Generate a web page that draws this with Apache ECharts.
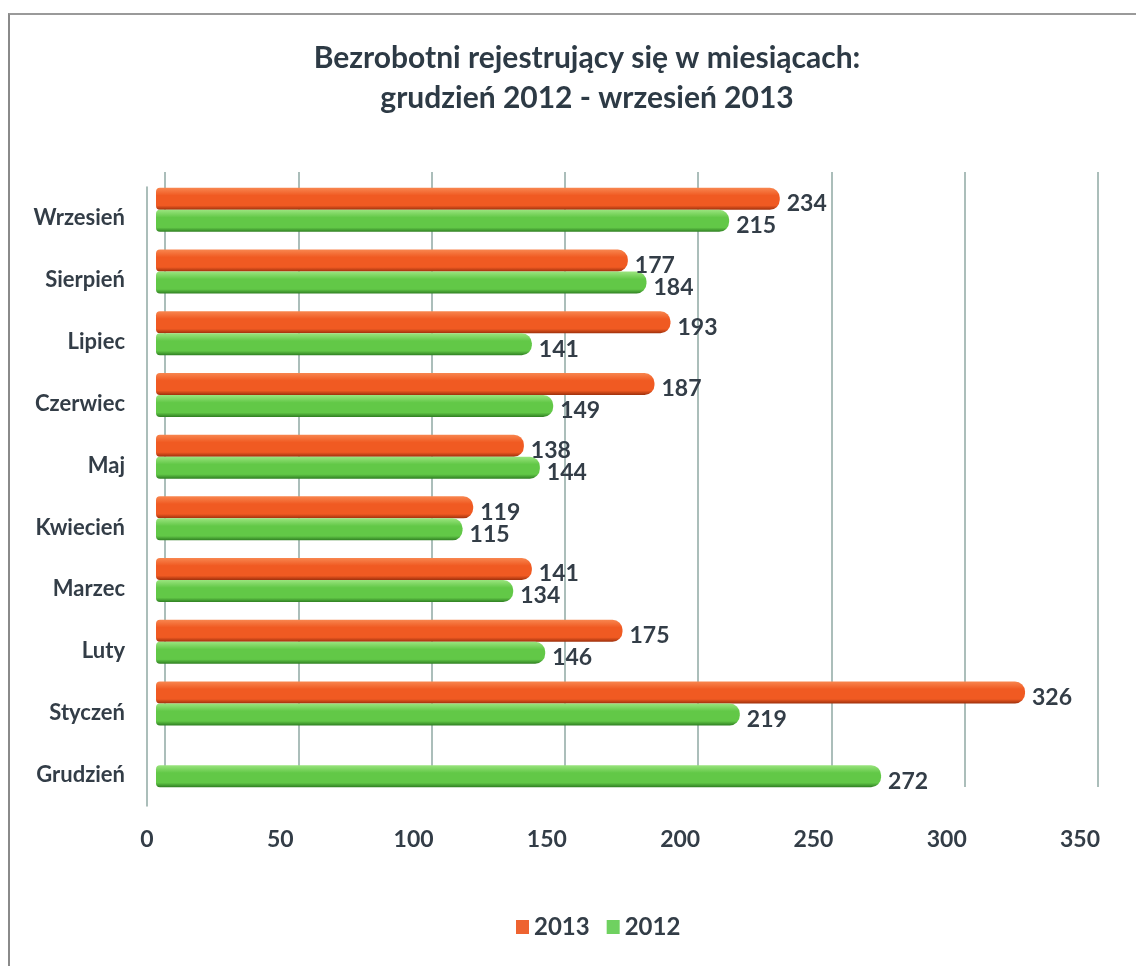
<!DOCTYPE html>
<html>
<head>
<meta charset="utf-8">
<script src="https://cdn.jsdelivr.net/npm/echarts@6/dist/echarts.min.js"></script>
<style>
html,body{margin:0;padding:0;background:#fff;}
#frame{position:absolute;left:8px;top:13px;width:1130px;height:951px;border-top:2px solid #9a9a9a;border-left:2px solid #8a8a8a;border-bottom:1px solid #e4e4e4;}
#chart{position:absolute;left:0;top:0;width:1136px;height:966px;}
</style>
</head>
<body>
<div id="frame"></div>
<div id="chart"></div>
<script>
const categories = ['Grudzień','Styczeń','Luty','Marzec','Kwiecień','Maj','Czerwiec','Lipiec','Sierpień','Wrzesień'];
const values2013 = [null, 326, 175, 141, 119, 138, 187, 193, 177, 234];
const values2012 = [272, 219, 146, 134, 115, 144, 149, 141, 184, 215];
const xTicks = [0, 50, 100, 150, 200, 250, 300, 350];
const titleLines = ['Bezrobotni rejestrujący się w miesiącach:', 'grudzień 2012 - wrzesień 2013'];

const FONT = 'Lato';
const TXT = '#333d47';

function grad(top, mid, bot) {
  return new echarts.graphic.LinearGradient(0, 0, 0, 1, [
    {offset: 0, color: top}, {offset: 0.35, color: mid}, {offset: 0.8, color: mid}, {offset: 1, color: bot}
  ]);
}

const chart = echarts.init(document.getElementById('chart'), null, {renderer: 'canvas'});
const xMin = xTicks[0], xMax = xTicks[xTicks.length - 1], xStep = xTicks[1] - xTicks[0];

const labelStyle = {show: true, position: 'right', distance: 7, offset: [0, 5], color: TXT, fontFamily: FONT, fontWeight: 'bold', fontSize: 23};

chart.setOption({
  animation: false,
  textStyle: {fontFamily: FONT},
  title: {
    text: titleLines.join('\n'),
    left: 582, top: 33, textAlign: 'center',
    textStyle: {fontFamily: FONT, fontWeight: 'bold', fontSize: 30, color: '#2d3a45', lineHeight: 40, align: 'center'}
  },
  legend: {
    data: [
      {name: '2013', itemStyle: {color: '#ee6330'}},
      {name: '2012', itemStyle: {color: '#6fd160'}}
    ],
    bottom: 22, left: 511,
    icon: 'rect', itemWidth: 13, itemHeight: 14, itemGap: 17,
    textStyle: {fontFamily: FONT, fontWeight: 'bold', fontSize: 24, color: TXT}
  },
  grid: [
    {left: 156, width: 933, top: 179, height: 617},
    {left: 165, width: 933, top: 172, height: 615},
    {left: 147, width: 933, top: 187, height: 619}
  ],
  xAxis: [
    {gridIndex: 0, type: 'value', min: xMin, max: xMax, interval: xStep,
     axisLabel: {show: false}, axisLine: {show: false}, axisTick: {show: false}, splitLine: {show: false}},
    {gridIndex: 1, type: 'value', min: xMin, max: xMax, interval: xStep,
     axisLabel: {show: false}, axisLine: {show: false}, axisTick: {show: false},
     splitLine: {show: true, lineStyle: {color: '#8fa8a3', width: 1.5}}},
    {gridIndex: 2, type: 'value', min: xMin, max: xMax, interval: xStep,
     axisLabel: {show: true, margin: 22, color: TXT, fontFamily: FONT, fontWeight: 'bold', fontSize: 23},
     axisLine: {show: false}, axisTick: {show: false}, splitLine: {show: false}}
  ],
  yAxis: [
    {gridIndex: 0, type: 'category', data: categories, axisLabel: {show: false}, axisLine: {show: false}, axisTick: {show: false}},
    {gridIndex: 1, type: 'category', data: categories, axisLabel: {show: false}, axisLine: {show: false}, axisTick: {show: false}},
    {gridIndex: 2, type: 'category', data: categories,
     axisLabel: {show: true, margin: 22, color: TXT, fontFamily: FONT, fontWeight: 'bold', fontSize: 22},
     axisLine: {show: true, lineStyle: {color: '#8fa8a3', width: 1.5}}, axisTick: {show: false}}
  ],
  series: [
    {
      name: '2013', type: 'bar', xAxisIndex: 0, yAxisIndex: 0,
      data: values2013, barWidth: 22, barGap: '0%',
      itemStyle: {color: grad('#f8864f', '#f05a22', '#9e300c'), borderRadius: [4, 10, 10, 4]},
      label: labelStyle
    },
    {
      name: '2012', type: 'bar', xAxisIndex: 0, yAxisIndex: 0,
      data: values2012, barWidth: 22, barGap: '0%',
      itemStyle: {color: grad('#9ae47e', '#62c847', '#2f7f22'), borderRadius: [4, 10, 10, 4]},
      label: labelStyle
    }
  ]
});
</script>
</body>
</html>
